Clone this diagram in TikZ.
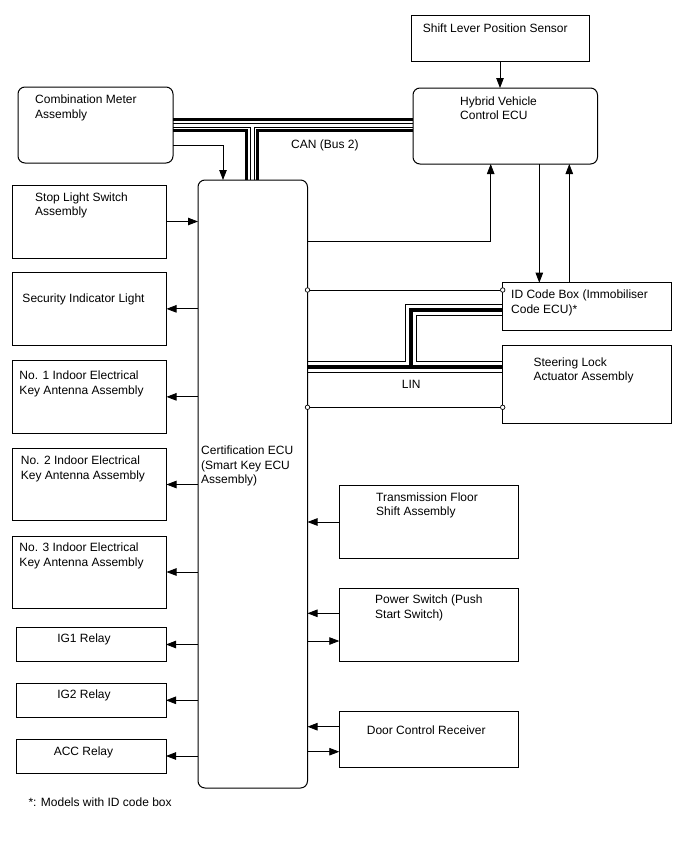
\documentclass[tikz,border=0pt]{standalone}
\usepackage{fontspec}
\setmainfont{Liberation Sans}
\usetikzlibrary{arrows.meta,backgrounds}
\newcommand\myst{\rule{0pt}{9pt}}
\begin{document}
\begin{tikzpicture}[x=1pt,y=-1pt,
  box/.style={draw=black, line width=1pt, rectangle, inner sep=0pt, outer sep=0pt, anchor=north west},
  rbox/.style={box, rounded corners=7pt},
  txt/.style={anchor=north west, inner sep=0pt, align=left, font=\fontsize{12}{14.5}\selectfont},
  txtc/.style={anchor=north, inner sep=0pt, align=center, font=\fontsize{12}{14.5}\selectfont},
  conn/.style={draw=black, line width=0.8pt},
  arr/.style={conn, -{Triangle[length=10pt,width=7.5pt]}},
  oc/.style={circle, draw=black, fill=white, inner sep=0pt, minimum size=4.5pt, line width=0.7pt}]
\useasboundingbox (0,0) rectangle (688,852);

% boxes
\node[box,  minimum width=178pt,   minimum height=46pt]   (slp)  at (411,15) {};
\node[rbox, minimum width=184.5pt, minimum height=76pt]   (hv)   at (413,88) {};
\node[rbox, minimum width=155pt,   minimum height=76pt]   (cm)   at (18,87) {};
\node[rbox, minimum width=109.5pt, minimum height=608pt]  (cert) at (198,180) {};
\node[box,  minimum width=154.5pt, minimum height=73pt]   (sls)  at (12,185) {};
\node[box,  minimum width=154.5pt, minimum height=72.3pt] (sil)  at (12,272.7) {};
\node[box,  minimum width=154.5pt, minimum height=72.3pt] (ka)   at (12,360.7) {};
\node[box,  minimum width=154.5pt, minimum height=72.4pt] (kb)   at (12,448.3) {};
\node[box,  minimum width=154.5pt, minimum height=72pt]   (kc)   at (12,536) {};
\node[box,  minimum width=150pt,   minimum height=34.4pt] (igA)  at (16,627.3) {};
\node[box,  minimum width=150pt,   minimum height=34pt]   (igB)  at (16,683.3) {};
\node[box,  minimum width=150pt,   minimum height=34pt]   (acc)  at (16,739) {};
\node[box,  minimum width=169pt,   minimum height=47.3pt] (idb)  at (502.7,282.7) {};
\node[box,  minimum width=169pt,   minimum height=78.3pt] (sla)  at (502.7,345) {};
\node[box,  minimum width=179pt,   minimum height=72.6pt] (tfs)  at (339.3,485.7) {};
\node[box,  minimum width=179pt,   minimum height=73.4pt] (ps)   at (339.3,588.3) {};
\node[box,  minimum width=179pt,   minimum height=56.7pt] (dcr)  at (339.3,711) {};

% texts
\node[txt] (tslp) at (422.7,23) {\myst Shift Lever Position Sensor};
\node[txt] (thv)  at (460,96) {\myst Hybrid Vehicle\\Control ECU};
\node[txt] (tcm)  at (35,94.6) {\myst Combination Meter\\Assembly};
\node[txt] (tcan) at (291,139.6) {\myst CAN (Bus 2)};
\node[txt] (tsls) at (35,192) {\myst Stop Light Switch\\Assembly};
\node[txt] (tsil) at (22.3,293.6) {\myst Security Indicator Light};
\node[txt] (tka)  at (19.3,370.3) {\myst No. 1 Indoor Electrical\\Key Antenna Assembly};
\node[txt] (tkb)  at (20.7,455.3) {\myst No. 2 Indoor Electrical\\Key Antenna Assembly};
\node[txt] (tkc)  at (19.3,542.6) {\myst No. 3 Indoor Electrical\\Key Antenna Assembly};
\node[txt] (tcert) at (201,445.3) {\myst Certification ECU\\(Smart Key ECU\\Assembly)};
\node[txtc] (tigA) at (84,633) {\myst IG1 Relay};
\node[txtc] (tigB) at (84,689.3) {\myst IG2 Relay};
\node[txtc] (tacc) at (83.5,746.3) {\myst ACC Relay};
\node[txt] (tfn)  at (28.3,797.6) {\myst *: Models with ID code box};
\node[txt] (tidb) at (511,289.6) {\myst ID Code Box (Immobiliser\\Code ECU)*};
\node[txt] (tsla) at (533.3,357) {\myst Steering Lock\\Actuator Assembly};
\node[txt] (tlin) at (401.7,379.3) {\myst LIN};
\node[txt] (ttfs) at (376,492) {\myst Transmission Floor\\Shift Assembly};
\node[txt] (tps)  at (375,594.6) {\myst Power Switch (Push\\Start Switch)};
\node[txt] (tdcr) at (366.7,725.3) {\myst Door Control Receiver};

% helper coordinates
\coordinate (canY) at (0,125);
\coordinate (canX) at (252,125);
\coordinate (linY) at (0,366.5);
\coordinate (linX) at (411,366.5);
\coordinate (linT) at (411,309.5);
\coordinate (cmk)  at (223,145.7);
\coordinate (sx)   at (500,0);
\coordinate (dA)   at (539.3,0);
\coordinate (dB)   at (569.3,0);
\coordinate (ch)   at (490.7,241.7);
\coordinate (oA)   at (0,290);
\coordinate (oB)   at (0,407.3);
\coordinate (psA)  at (0,613.3);
\coordinate (psB)  at (0,641);
\coordinate (drA)  at (0,726.7);
\coordinate (drB)  at (0,751.7);

% buses
\begin{scope}[on background layer]
\foreach \lw/\lc in {14/black,8/white,5/black,3/white}{
  \draw[line width=\lw pt, draw=\lc] (cm.east |- canY) -- (hv.west |- canY);
  \draw[line width=\lw pt, draw=\lc] (canX) -- (cert.north -| canX);
}
\foreach \lw/\lc in {12/black,10/white,4/black}{
  \draw[line width=\lw pt, draw=\lc] (cert.east |- linY) -- (sla.west |- linY);
  \draw[line width=\lw pt, draw=\lc] (linX) -- (linT) -- (idb.west |- linT);
}
\end{scope}

% connectors
\draw[arr] (slp.south -| sx) -- (hv.north -| sx);
\draw[arr] (cm.east |- cmk) -| (cert.north -| cmk);
\draw[arr] (cert.east |- ch) -| (hv.south -| ch);
\draw[arr] (hv.south -| dA) -- (idb.north -| dA);
\draw[arr] (idb.north -| dB) -- (hv.south -| dB);
\draw[arr] (sls.east) -- (cert.west |- sls.east);
\draw[arr] (cert.west |- sil.east) -- (sil.east);
\draw[arr] (cert.west |- ka.east) -- (ka.east);
\draw[arr] (cert.west |- kb.east) -- (kb.east);
\draw[arr] (cert.west |- kc.east) -- (kc.east);
\draw[arr] (cert.west |- igA.east) -- (igA.east);
\draw[arr] (cert.west |- igB.east) -- (igB.east);
\draw[arr] (cert.west |- acc.east) -- (acc.east);
\draw[arr] (tfs.west) -- (cert.east |- tfs.west);
\draw[arr] (ps.west |- psA) -- (cert.east |- psA);
\draw[arr] (cert.east |- psB) -- (ps.west |- psB);
\draw[arr] (dcr.west |- drA) -- (cert.east |- drA);
\draw[arr] (cert.east |- drB) -- (dcr.west |- drB);

% open-circle links
\node[oc] (oA1) at (cert.east |- oA) {};
\node[oc] (oA2) at (idb.west |- oA) {};
\node[oc] (oB1) at (cert.east |- oB) {};
\node[oc] (oB2) at (sla.west |- oB) {};
\draw[conn] (oA1) -- (oA2);
\draw[conn] (oB1) -- (oB2);
\end{tikzpicture}
\end{document}
